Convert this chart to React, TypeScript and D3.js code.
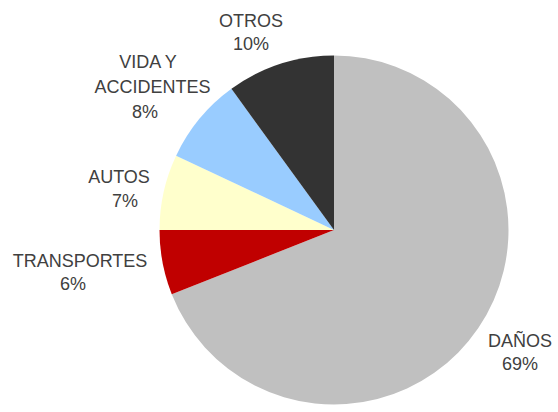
import React from "react";
import * as d3 from "d3";

const categories = ["DAÑOS", "TRANSPORTES", "AUTOS", "VIDA Y ACCIDENTES", "OTROS"];
const values = [69, 6, 7, 8, 10];
const percentLabels = ["69%", "6%", "7%", "8%", "10%"];
const nameLines = [["DAÑOS"], ["TRANSPORTES"], ["AUTOS"], ["VIDA Y", "ACCIDENTES"], ["OTROS"]];
const colors = ["#C0C0C0", "#C00000", "#FFFFCC", "#99CCFF", "#333333"];

// label layout (centre x of each line, first baseline y, line spacing)
const labelLayout = [
  { xs: [520, 520], y: 346.7, step: 23.3 },
  { xs: [80, 73], y: 267, step: 23.3 },
  { xs: [119, 125], y: 183.3, step: 23.4 },
  { xs: [148, 152.5, 145], y: 68.3, step: 25 },
  { xs: [251, 251], y: 26.7, step: 23.3 },
];

const W = 558;
const H = 412;
const CX = 334;
const CY = 230;
const R = 174.5;

export default function App() {
  const data = categories.map((c, i) => ({ name: c, value: values[i], i }));
  const pie = d3
    .pie<any>()
    .value((d) => d.value)
    .sort(null)
    .startAngle(0)
    .endAngle(2 * Math.PI);
  const arcs = pie(data);
  const arc = d3.arc<any>().innerRadius(0).outerRadius(R);

  return (
    <svg
      width={W}
      height={H}
      style={{ position: "absolute", left: 0, top: 0, background: "#fff" }}
    >
      <g transform={`translate(${CX},${CY})`}>
        {arcs.map((a, i) => (
          <path key={i} d={arc(a) as string} fill={colors[i]} />
        ))}
      </g>
      {data.map((d, i) => {
        const lay = labelLayout[i];
        const lines = [...nameLines[i], percentLabels[i]];
        return (
          <g key={i}>
            {lines.map((t, j) => (
              <text
                key={j}
                x={lay.xs[j]}
                y={lay.y + j * lay.step}
                textAnchor="middle"
                fontFamily="'Liberation Sans', Arial, sans-serif"
                fontSize={18}
                fill="#404040"
              >
                {t}
              </text>
            ))}
          </g>
        );
      })}
    </svg>
  );
}
